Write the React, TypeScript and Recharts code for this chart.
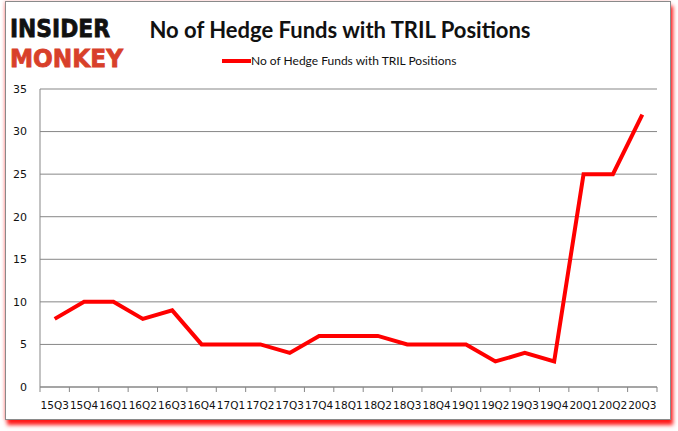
import React from 'react';
import { LineChart, Line, XAxis, YAxis, CartesianGrid } from 'recharts';

// quarters shown on the x axis
const quarters = [
  '15Q3', '15Q4', '16Q1', '16Q2', '16Q3', '16Q4', '17Q1', '17Q2', '17Q3', '17Q4',
  '18Q1', '18Q2', '18Q3', '18Q4', '19Q1', '19Q2', '19Q3', '19Q4', '20Q1', '20Q2', '20Q3'
];

// number of hedge funds holding TRIL
const hedgeFunds = [8, 10, 10, 8, 9, 5, 5, 5, 4, 6, 6, 6, 5, 5, 5, 3, 4, 3, 25, 25, 32];

const yTicks = [0, 5, 10, 15, 20, 25, 30, 35];

const SERIES_NAME = 'No of Hedge Funds with TRIL Positions';

const data = quarters.map((q, i) => ({ quarter: q, funds: hedgeFunds[i] }));

const PLOT_LEFT = 40;
const PLOT_RIGHT = 657;
const HALF_STEP = (PLOT_RIGHT - PLOT_LEFT) / quarters.length / 2;
const AXIS_COLOR = '#878787';

function QuarterTick(props: any) {
  const { x, y, payload, index } = props;
  const axisY = y - 5;
  return (
    <g>
      <line x1={x - HALF_STEP} y1={axisY} x2={x - HALF_STEP} y2={axisY + 5} stroke={AXIS_COLOR} />
      {index === quarters.length - 1 && (
        <line x1={x + HALF_STEP} y1={axisY} x2={x + HALF_STEP} y2={axisY + 5} stroke={AXIS_COLOR} />
      )}
      <text
        x={x}
        y={axisY + 22}
        textAnchor="middle"
        fontFamily="DejaVu Sans"
        fontSize={10.5}
        fill="#111"
      >
        {payload.value}
      </text>
    </g>
  );
}

export default function App() {
  return (
    <div style={{ position: 'absolute', left: 0, top: 0, width: 678, height: 431, background: '#fff' }}>
      {/* frame with red drop shadow */}
      <div
        style={{
          position: 'absolute',
          left: 5,
          top: 1,
          width: 666,
          height: 419,
          border: '1px solid #8a8a8a',
          boxSizing: 'border-box',
          boxShadow: '2px 5px 4px rgba(255,0,0,0.9), -1px 0 3px rgba(255,0,0,0.25)',
          background: '#fff'
        }}
      />

      {/* logo */}
      <svg style={{ position: 'absolute', left: 0, top: 0 }} width={678} height={80}>
        <text
          x={10}
          y={37}
          fontFamily="DejaVu Sans"
          fontWeight="bold"
          fontSize={25}
          textLength={100}
          lengthAdjust="spacingAndGlyphs"
          fill="#111"
          stroke="#111"
          strokeWidth={0.8}
        >
          INSIDER
        </text>
        <text
          x={10}
          y={67}
          fontFamily="DejaVu Sans"
          fontWeight="bold"
          fontSize={25}
          textLength={113}
          lengthAdjust="spacingAndGlyphs"
          fill="#d8402a"
          stroke="#d8402a"
          strokeWidth={0.8}
        >
          MONKEY
        </text>
      </svg>

      {/* title */}
      <div
        style={{
          position: 'absolute',
          left: 0,
          width: 680,
          top: 16,
          textAlign: 'center',
          fontFamily: 'Lato',
          fontWeight: 'bold',
          fontSize: 22,
          color: '#111'
        }}
      >
        {SERIES_NAME}
      </div>

      {/* legend */}
      <div
        style={{
          position: 'absolute',
          left: 222,
          top: 53,
          display: 'flex',
          alignItems: 'center',
          fontFamily: 'Lato',
          fontSize: 12,
          color: '#111'
        }}
      >
        <svg width={29} height={8}>
          <line x1={0} y1={4} x2={29} y2={4} stroke="#ff0000" strokeWidth={4} />
        </svg>
        <span>{SERIES_NAME}</span>
      </div>

      <LineChart
        width={678}
        height={431}
        data={data}
        margin={{ top: 89, right: 678 - PLOT_RIGHT, bottom: 14, left: 10 }}
        style={{ position: 'absolute', left: 0, top: 0 }}
      >
        <CartesianGrid vertical={false} stroke={AXIS_COLOR} strokeOpacity={1} />
        <XAxis
          dataKey="quarter"
          interval={0}
          height={30}
          padding={{ left: HALF_STEP, right: HALF_STEP }}
          tickSize={5}
          tickMargin={0}
          tickLine={false}
          axisLine={{ stroke: AXIS_COLOR }}
          tick={<QuarterTick />}
        />
        <YAxis
          width={30}
          domain={[0, 35]}
          ticks={yTicks}
          interval={0}
          tickLine={false}
          tickMargin={7}
          axisLine={{ stroke: AXIS_COLOR }}
          tick={{ fontFamily: 'DejaVu Sans', fontSize: 11, fill: '#111' }}
        />
        <Line
          type="linear"
          dataKey="funds"
          name={SERIES_NAME}
          stroke="#ff0000"
          strokeWidth={4}
          dot={false}
          isAnimationActive={false}
        />
      </LineChart>
    </div>
  );
}
